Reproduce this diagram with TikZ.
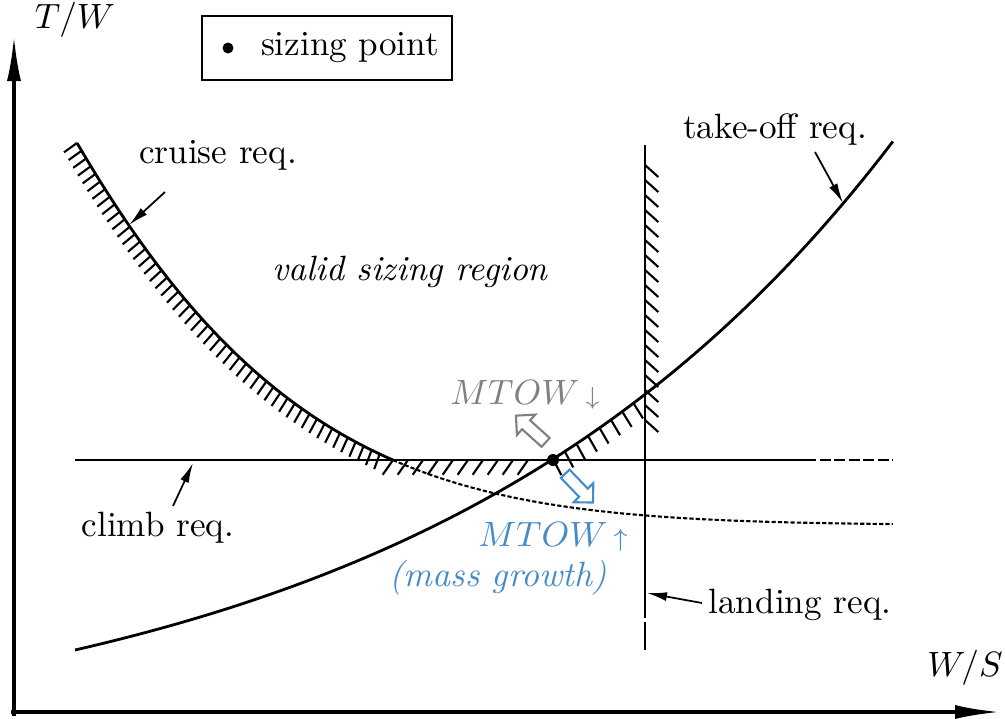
\documentclass[tikz,border=0pt]{standalone}
\usetikzlibrary{arrows.meta,decorations.pathreplacing,shapes.arrows}
\definecolor{mtowgray}{RGB}{128,128,128}
\definecolor{mtowblue}{RGB}{70,140,200}

\begin{document}
\begin{tikzpicture}[
  hatch/.style={line width=0.6pt, decorate, decoration={border, segment length=0.15cm, amplitude=0.18cm, angle=#1}},
  note/.style={line width=0.5pt, -{Latex[length=2mm,width=0.9mm]}},
  axis/.style={line width=1pt, -{Latex[length=4.5mm,width=1.4mm]}},
  mtow/.style={single arrow, draw=#1, line width=0.6pt, minimum height=4mm, inner sep=1.4pt, single arrow head extend=2.2pt}
]
\useasboundingbox (0,0) rectangle (10.05,7.18);

\coordinate (O) at (0.14,0.06);
\coordinate (ytop) at (0.14,6.82);
\coordinate (xend) at (10.0,0.06);
\draw [axis] (0.14,0.02) -- (ytop);
\draw [axis] (0.11,0.06) -- (xend);
\node (TW) at (0.75,6.98) {$T/W$};
\node (WS) at (9.65,0.50) {$W/S$};

\node (legend) at (3.27,6.70) [draw, line width=0.6pt, minimum width=2.5cm, minimum height=0.64cm] {};
\node (dot) at (2.28,6.70) [circle, fill, inner sep=0pt, minimum size=1.1mm] {};
\node (dottext) at (3.50,6.70) {sizing point};

\draw [line width=0.8pt] plot [domain=0.77:3.93, samples=60] (\x, {1.93+3.82*exp(-(0.45*(\x-0.77)+0.035*(\x-0.77)^2))});
\draw [hatch=-85, decoration={segment length=0.09cm, amplitude=0.16cm}] plot [domain=0.77:3.93, samples=60] (\x, {1.93+3.82*exp(-(0.45*(\x-0.77)+0.035*(\x-0.77)^2))});
\draw [line width=0.6pt, dash pattern=on 1.2pt off 0.6pt] plot [domain=3.93:8.93, samples=60] (\x, {1.93+3.82*exp(-(0.45*(\x-0.77)+0.035*(\x-0.77)^2))});

\draw [line width=0.6pt] (0.75,2.58) -- (8.05,2.58);
\draw [line width=0.6pt, dash pattern=on 1.1mm off 0.35mm] (8.05,2.58) -- (8.93,2.58);
\draw [hatch=-125] (3.93,2.58) -- (5.53,2.58);

\draw [line width=0.8pt] plot [domain=0.75:8.93, samples=80] (\x, {1.08*exp(0.213*(\x-0.75))-0.40});
\draw [hatch=-95, decoration={segment length=0.14cm}] plot [domain=5.53:6.45, samples=20] (\x, {1.08*exp(0.213*(\x-0.75))-0.40});

\draw [line width=0.6pt] (6.45,5.73) -- (6.45,1.00);
\draw [line width=0.6pt] (6.45,0.96) -- (6.45,0.68);
\draw [hatch=-132] (6.45,2.98) -- (6.45,5.73);

\node (sizing) at (5.53,2.58) [circle, fill, inner sep=0pt, minimum size=1.2mm] {};

\node (cruise) at (2.18,5.63) {cruise req.};
\coordinate (cruiseA) at (1.65,5.26);
\coordinate (cruiseB) at (1.29,4.93);
\draw (cruiseA) edge [note] (cruiseB);

\node (takeoff) at (7.75,5.88) {take-off req.};
\coordinate (takeoffA) at (8.15,5.66);
\coordinate (takeoffB) at (8.43,5.15);
\draw (takeoffA) edge [note] (takeoffB);

\node (climb) at (1.58,1.90) {climb req.};
\coordinate (climbA) at (1.73,2.12);
\coordinate (climbB) at (1.93,2.55);
\draw (climbA) edge [note] (climbB);

\node (landing) at (8.00,1.13) {landing req.};
\coordinate (landingA) at (7.02,1.15);
\coordinate (landingB) at (6.47,1.25);
\draw (landingA) edge [note] (landingB);

\node (region) at (4.10,4.46) {\itshape valid sizing region};

\node (down) at (5.25,3.23) [text=mtowgray] {$MTOW$\,${\scriptstyle\downarrow}$};
\node (shrink) at (5.33,2.87) [mtow=mtowgray, rotate=138] {};
\node (up) at (5.53,1.81) [text=mtowblue] {$MTOW$\,${\scriptstyle\uparrow}$};
\node (growth) at (4.98,1.40) [text=mtowblue] {\itshape (mass growth)};
\node (grow) at (5.77,2.32) [mtow=mtowblue, rotate=-46] {};
\end{tikzpicture}
\end{document}
